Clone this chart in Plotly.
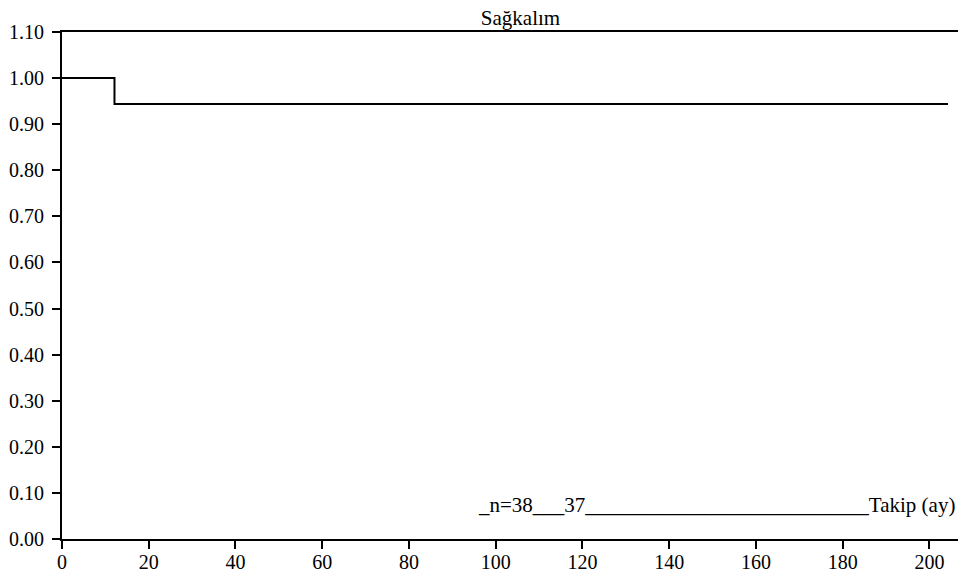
import plotly.graph_objects as go

# Kaplan-Meier style survival step data
time_months = [0, 12.1, 12.1, 204.3]
survival = [1.00, 1.00, 0.944, 0.944]

x_ticks = [0, 20, 40, 60, 80, 100, 120, 140, 160, 180, 200]
y_ticks = [0.0, 0.1, 0.2, 0.3, 0.4, 0.5, 0.6, 0.7, 0.8, 0.9, 1.0, 1.1]
y_tick_labels = ["%.2f" % v for v in y_ticks]

title_text = "Sağkalım"
risk_text = "_n=38___37___________________________Takip (ay)"

FONT = "Liberation Serif"

fig = go.Figure()
fig.add_trace(go.Scatter(
    x=time_months, y=survival, mode="lines",
    line=dict(color="black", width=2, shape="linear"),
    hoverinfo="skip", showlegend=False,
))

fig.add_annotation(
    x=95.7, y=0.073, xref="x", yref="y", text=risk_text, showarrow=False,
    xanchor="left", yanchor="middle", borderpad=0,
    font=dict(family=FONT, size=21, color="black"),
)

fig.update_layout(
    width=950, height=564,
    margin=dict(l=54, r=0, t=24, b=33, autoexpand=False),
    paper_bgcolor="white", plot_bgcolor="white",
    title=dict(text=title_text, x=0.5395, xanchor="center", y=0.996, yanchor="top",
               font=dict(family=FONT, size=21, color="black")),
    font=dict(family=FONT, size=20, color="black"),
    xaxis=dict(range=[0, 206.6], tickvals=x_ticks, showgrid=False, zeroline=False,
               showline=True, linecolor="black", linewidth=2, mirror=True,
               ticks="outside", ticklen=8, tickwidth=2, tickcolor="black",
               ticklabelstandoff=-4, automargin=False),
    yaxis=dict(range=[0, 1.1], tickvals=y_ticks, ticktext=y_tick_labels,
               showgrid=False, zeroline=False,
               showline=True, linecolor="black", linewidth=2,
               ticks="outside", ticklen=8, tickwidth=2, tickcolor="black",
               ticklabelstandoff=4, automargin=False),
)

fig.write_html("out.html")
